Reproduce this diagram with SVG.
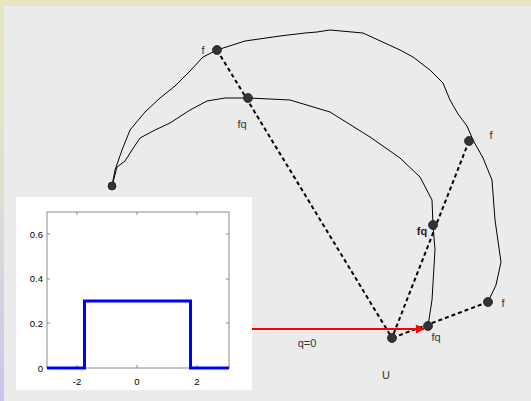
<svg xmlns="http://www.w3.org/2000/svg" width="531" height="401" viewBox="0 0 531 401">
<defs>
<linearGradient id="side" x1="0" y1="0" x2="0" y2="1">
<stop offset="0" stop-color="#e8e6c0"/>
<stop offset="0.45" stop-color="#e0e0d0"/>
<stop offset="1" stop-color="#c6c6f0"/>
</linearGradient>
<marker id="ah" viewBox="0 0 10 10" refX="9" refY="5" markerWidth="6.5" markerHeight="4.5" markerUnits="strokeWidth" orient="auto">
<path d="M0,0 L10,5 L0,10 z" fill="#ff0000"/>
</marker>
<style>
.lbl{font-family:"Liberation Sans",Arial,sans-serif;font-size:11px;fill:#333}
.ax{font-family:"Liberation Sans",Arial,sans-serif;font-size:9.5px;fill:#000}
.dash{stroke:#000;stroke-width:2;stroke-dasharray:4 3;fill:none}
.curve{stroke:#000;stroke-width:1;fill:none;stroke-linejoin:round}
.dot{fill:#333;stroke:#222;stroke-width:0.8}
</style>
</defs>
<rect x="0" y="0" width="531" height="401" fill="url(#side)"/>
<rect x="0" y="0" width="531" height="6" fill="#e8e6c0"/>
<rect x="4" y="6" width="527" height="395" fill="#ebebeb"/>

<g id="connectors">
<path class="curve" d="M112,186 L115,170 L122,150 L130,130 L145,112 L160,98 L175,86 L190,71 L203,57 L217,50 L245,41 L280,36 L305,33 L317,32 L330,30 L363,33 L400,50 L413,57 L430,70 L443,83 L450,100 L458,114 L467,126 L473,140 L483,158 L492,180 L495,220 L501,262 L496,285 L488,302"/>
<path class="curve" d="M112,186 L117,167 L125,161 L132,150 L140,138 L155,130 L170,123 L190,110 L207,101 L225,98 L248,98 L270,99 L290,100 L330,112 L370,137 L400,158 L420,177 L432,200 L433,225 L435,250 L432,300 L428,326"/>
<line class="dash" x1="217" y1="50" x2="392" y2="338"/>
<line class="dash" x1="469" y1="141" x2="392" y2="338"/>
<line class="dash" x1="488" y1="302" x2="392" y2="338"/>
<line x1="208" y1="329" x2="424" y2="329" stroke="#ff0000" stroke-width="2" marker-end="url(#ah)"/>
</g>

<g id="plot">
<rect x="16" y="197" width="236" height="193" fill="#ffffff"/>
<rect x="47" y="212" width="182" height="156" fill="none" stroke="#8c8c8c" stroke-width="1"/>
<g stroke="#8c8c8c" stroke-width="1">
<line x1="77" y1="368" x2="77" y2="365"/><line x1="137" y1="368" x2="137" y2="365"/><line x1="197" y1="368" x2="197" y2="365"/>
<line x1="77" y1="212" x2="77" y2="215"/><line x1="137" y1="212" x2="137" y2="215"/><line x1="197" y1="212" x2="197" y2="215"/>
<line x1="47" y1="234" x2="50" y2="234"/><line x1="47" y1="279" x2="50" y2="279"/><line x1="47" y1="323" x2="50" y2="323"/>
<line x1="229" y1="234" x2="226" y2="234"/><line x1="229" y1="279" x2="226" y2="279"/><line x1="229" y1="323" x2="226" y2="323"/>
</g>
<polyline points="47,368 84.5,368 84.5,301 190.5,301 190.5,368 229,368" fill="none" stroke="#0000ff" stroke-width="3"/>
<text class="ax" x="43" y="238" text-anchor="end">0.6</text>
<text class="ax" x="43" y="282" text-anchor="end">0.4</text>
<text class="ax" x="43" y="327" text-anchor="end">0.2</text>
<text class="ax" x="43" y="372" text-anchor="end">0</text>
<text class="ax" x="77" y="385" text-anchor="middle">-2</text>
<text class="ax" x="137" y="385" text-anchor="middle">0</text>
<text class="ax" x="197" y="385" text-anchor="middle">2</text>
</g>

<g id="node-f1"><circle class="dot" cx="217" cy="50" r="4.5"/><text class="lbl" x="203" y="54" text-anchor="middle">f</text></g>
<g id="node-fq1"><circle class="dot" cx="248" cy="98" r="4.5"/><text class="lbl" x="242" y="128" text-anchor="middle">fq</text></g>
<g id="node-start"><circle class="dot" cx="112" cy="186" r="4"/></g>
<g id="node-f2"><circle class="dot" cx="469" cy="141" r="4.5"/><text class="lbl" x="491" y="139" text-anchor="middle">f</text></g>
<g id="node-fq2"><circle class="dot" cx="433" cy="225" r="4.5"/><text class="lbl" x="422" y="235" text-anchor="middle" style="font-weight:bold;fill:#222">fq</text></g>
<g id="node-f3"><circle class="dot" cx="488" cy="302" r="4.5"/><text class="lbl" x="503" y="307" text-anchor="middle">f</text></g>
<g id="node-fq3"><circle class="dot" cx="428" cy="326" r="4.5"/><text class="lbl" x="436" y="341" text-anchor="middle">fq</text></g>
<g id="node-U"><circle class="dot" cx="392" cy="338" r="4.5"/><text class="lbl" x="386" y="379" text-anchor="middle">U</text></g>
<g id="label-q0"><text class="lbl" x="307" y="347" text-anchor="middle">q=0</text></g>
</svg>
